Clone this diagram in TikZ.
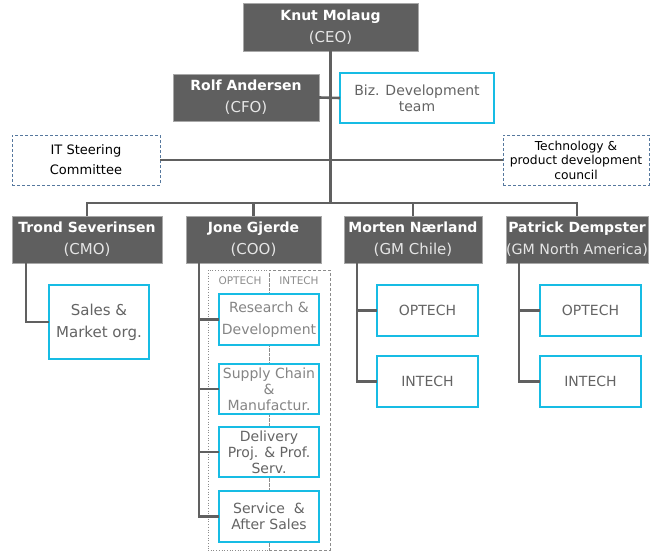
\documentclass[tikz,border=0pt]{standalone}
\usepackage{fontspec}
\setmainfont{DejaVu Sans}
\definecolor{boxgray}{HTML}{5F5F5F}
\definecolor{boxedge}{HTML}{A8A8A8}
\definecolor{cyanc}{HTML}{17BCE4}
\definecolor{txtgray}{HTML}{646464}
\definecolor{txtlight}{HTML}{858585}
\definecolor{titlec}{HTML}{E6E6E6}
\definecolor{linegray}{HTML}{606060}
\definecolor{dashblue}{HTML}{56789E}
\definecolor{regiongray}{HTML}{8C8C8C}
\newcommand{\ttl}[2][15]{{\fontsize{#1}{22}\selectfont\color{titlec}#2}}
\begin{document}
\begin{tikzpicture}[x=1pt,y=-1pt,
  dbox/.style={fill=boxgray, draw=boxedge, line width=0.8pt, inner sep=0pt, outer sep=0pt,
    align=center, text=white, font=\fontsize{14}{22}\selectfont},
  cbox/.style={fill=white, draw=cyanc, line width=2.2pt, inner sep=0pt, outer sep=0pt,
    align=center, text=txtgray, font=\fontsize{14}{16}\selectfont},
  dashbox/.style={draw=dashblue, dash pattern=on 3pt off 2pt, line width=0.7pt, inner sep=0pt,
    outer sep=0pt, align=center, text=black, font=\fontsize{12}{15}\selectfont},
  optregion/.style={draw=regiongray, dotted, line width=0.7pt, inner sep=0pt},
  intregion/.style={draw=regiongray, dash pattern=on 3pt off 2pt, line width=0.7pt, inner sep=0pt},
  reglabel/.style={text=regiongray, font=\fontsize{10.5}{12}\selectfont, inner sep=0pt},
  conn/.style={draw=linegray, line width=2.6pt}]
\useasboundingbox (0,0) rectangle (651,551);

% regions
\node[optregion, minimum width=61pt, minimum height=280pt] (optreg) at (238.5,410) {};
\node[intregion, minimum width=61pt, minimum height=280pt] (intreg) at (299.5,410) {};
\node[reglabel] (optlab) at (240,281) {OPTECH};
\node[reglabel] (intlab) at (299,281) {INTECH};

% top level
\node[dbox, minimum width=175pt, minimum height=48pt] (ceo) at (330.5,27)
  {\textbf{Knut Molaug}\\\ttl{(CEO)}};
\node[dbox, minimum width=146pt, minimum height=47pt] (cfo) at (246,97.5)
  {\textbf{Rolf Andersen}\\\ttl{(CFO)}};
\node[cbox, minimum width=154pt, minimum height=50pt] (biz) at (417,98)
  {Biz. Development\\team};
\node[dashbox, minimum width=148pt, minimum height=50pt, font=\fontsize{13}{20}\selectfont] (it) at (86,160)
  {IT Steering\\Committee};
\node[dashbox, minimum width=146pt, minimum height=50pt, font=\fontsize{12.3}{14.5}\selectfont] (tech) at (576,160)
  {Technology \&\\product development\\council};

% second level
\node[dbox, minimum width=150pt, minimum height=47pt] (trond) at (87,239.5)
  {\textbf{Trond Severinsen}\\\ttl{(CMO)}};
\node[dbox, minimum width=135pt, minimum height=47pt] (jone) at (253.5,239.5)
  {\textbf{Jone Gjerde}\\\ttl{(COO)}};
\node[dbox, minimum width=138pt, minimum height=47pt] (morten) at (413,239.5)
  {\textbf{Morten Nærland}\\\ttl{(GM Chile)}};
\node[dbox, minimum width=142pt, minimum height=47pt] (patrick) at (577,239.5)
  {\textbf{Patrick Dempster}\\\ttl[14.2]{(GM North America)}};

% children
\node[cbox, minimum width=100pt, minimum height=74pt, font=\fontsize{15}{22}\selectfont] (sales) at (99,322)
  {Sales \&\\Market org.};
\node[cbox, minimum width=100pt, minimum height=51pt, text=txtlight, font=\fontsize{14}{22}\selectfont] (rd) at (269,319.5)
  {Research \&\\Development};
\node[cbox, minimum width=100pt, minimum height=50pt, text=txtlight] (sc) at (269,389)
  {Supply Chain\\\&\\Manufactur.};
\node[cbox, minimum width=100pt, minimum height=50pt] (del) at (269,452)
  {Delivery\\Proj. \& Prof.\\Serv.};
\node[cbox, minimum width=100pt, minimum height=51pt] (svc) at (269,516.5)
  {Service\ \ \&\\After Sales};
\node[cbox, minimum width=101pt, minimum height=51pt] (mopt) at (427.5,310.5) {OPTECH};
\node[cbox, minimum width=101pt, minimum height=51pt] (mint) at (427.5,381.5) {INTECH};
\node[cbox, minimum width=101pt, minimum height=51pt] (popt) at (590.5,310.5) {OPTECH};
\node[cbox, minimum width=101pt, minimum height=51pt] (pint) at (590.5,381.5) {INTECH};

% coordinates
\coordinate (bus) at (330.5,203);
\coordinate (tl) at (26,263);
\coordinate (jl) at (199,263);
\coordinate (ml) at (357,263);
\coordinate (pl) at (519,263);

% connectors
\draw[conn] (ceo.south) -- (bus);
\draw[conn] (cfo.east) -- (biz.west);
\draw[conn] (it.east) -- (tech.west);
\draw[conn] (trond.north) |- (bus) -| (patrick.north);
\draw[conn] (jone.north) -- (jone.north |- bus);
\draw[conn] (morten.north) -- (morten.north |- bus);
\draw[conn] (tl) |- (sales.west);
\draw[conn] (jl) |- (svc.west);
\foreach \n in {rd,sc,del} \draw[conn] (\n.west) -- (\n.west -| jl);
\draw[conn] (ml) |- (mint.west);
\draw[conn] (mopt.west) -- (mopt.west -| ml);
\draw[conn] (pl) |- (pint.west);
\draw[conn] (popt.west) -- (popt.west -| pl);
\end{tikzpicture}
\end{document}
